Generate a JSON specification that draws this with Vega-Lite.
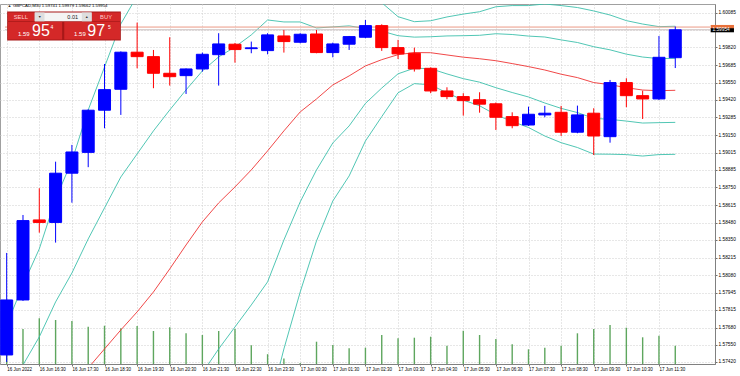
{
  "$schema": "https://vega.github.io/schema/vega-lite/v6.json",
  "width": 715,
  "height": 360,
  "autosize": {"type": "none"},
  "padding": {"left": 0, "top": 4, "right": 25, "bottom": 12},
  "background": "#ffffff",
  "config": {"view": {"stroke": "#a0a0a0"}, "font": "Liberation Sans"},
  "data": {"values": [
    {"i":0,"o":1.57471,"h":1.58250,"l":1.57418,"c":1.57891,"v":1360,"ma":1.56631,"bu2":1.57700,"bu1":1.57166,"bl1":1.56097,"bl2":1.55562},
    {"i":1,"o":1.57891,"h":1.58540,"l":1.57884,"c":1.58497,"v":1400,"ma":1.56784,"bu2":1.58006,"bu1":1.57395,"bl1":1.56173,"bl2":1.55562},
    {"i":2,"o":1.58502,"h":1.58744,"l":1.58405,"c":1.58483,"v":1828,"ma":1.56937,"bu2":1.58281,"bu1":1.57609,"bl1":1.56265,"bl2":1.55593},
    {"i":3,"o":1.58483,"h":1.58947,"l":1.58329,"c":1.58859,"v":1760,"ma":1.57089,"bu2":1.58662,"bu1":1.57876,"bl1":1.56303,"bl2":1.55516},
    {"i":4,"o":1.58859,"h":1.59075,"l":1.58634,"c":1.59021,"v":1720,"ma":1.57242,"bu2":1.58953,"bu1":1.58097,"bl1":1.56387,"bl2":1.55532},
    {"i":5,"o":1.59018,"h":1.59346,"l":1.58905,"c":1.59340,"v":1492,"ma":1.57372,"bu2":1.59342,"bu1":1.58357,"bl1":1.56387,"bl2":1.55402},
    {"i":6,"o":1.59340,"h":1.59693,"l":1.59202,"c":1.59497,"v":1532,"ma":1.57517,"bu2":1.59670,"bu1":1.58594,"bl1":1.56440,"bl2":1.55364},
    {"i":7,"o":1.59500,"h":1.59789,"l":1.59304,"c":1.59783,"v":1428,"ma":1.57662,"bu2":1.59999,"bu1":1.58830,"bl1":1.56494,"bl2":1.55326},
    {"i":8,"o":1.59783,"h":1.60009,"l":1.59660,"c":1.59749,"v":1520,"ma":1.57800,"bu2":1.60213,"bu1":1.59006,"bl1":1.56593,"bl2":1.55387},
    {"i":9,"o":1.59749,"h":1.59800,"l":1.59508,"c":1.59622,"v":1320,"ma":1.57952,"bu2":1.60411,"bu1":1.59182,"bl1":1.56723,"bl2":1.55494},
    {"i":10,"o":1.59622,"h":1.59897,"l":1.59528,"c":1.59596,"v":1468,"ma":1.58128,"bu2":1.60556,"bu1":1.59342,"bl1":1.56914,"bl2":1.55700},
    {"i":11,"o":1.59604,"h":1.59659,"l":1.59464,"c":1.59655,"v":1228,"ma":1.58311,"bu2":1.60678,"bu1":1.59495,"bl1":1.57128,"bl2":1.55944},
    {"i":12,"o":1.59655,"h":1.59780,"l":1.59635,"c":1.59767,"v":1160,"ma":1.58487,"bu2":1.60793,"bu1":1.59640,"bl1":1.57334,"bl2":1.56181},
    {"i":13,"o":1.59764,"h":1.59928,"l":1.59528,"c":1.59846,"v":1320,"ma":1.58632,"bu2":1.60862,"bu1":1.59747,"bl1":1.57517,"bl2":1.56402},
    {"i":14,"o":1.59844,"h":1.59854,"l":1.59703,"c":1.59803,"v":1400,"ma":1.58754,"bu2":1.60892,"bu1":1.59823,"bl1":1.57685,"bl2":1.56616},
    {"i":15,"o":1.59810,"h":1.59864,"l":1.59775,"c":1.59816,"v":748,"ma":1.58884,"bu2":1.60946,"bu1":1.59915,"bl1":1.57853,"bl2":1.56822},
    {"i":16,"o":1.59795,"h":1.59928,"l":1.59767,"c":1.59915,"v":392,"ma":1.59029,"bu2":1.61030,"bu1":1.60029,"bl1":1.58029,"bl2":1.57028},
    {"i":17,"o":1.59907,"h":1.59953,"l":1.59780,"c":1.59864,"v":220,"ma":1.59182,"bu2":1.60846,"bu1":1.60014,"bl1":1.58349,"bl2":1.57517},
    {"i":18,"o":1.59859,"h":1.59928,"l":1.59851,"c":1.59920,"v":40,"ma":1.59327,"bu2":1.60701,"bu1":1.60014,"bl1":1.58640,"bl2":1.57952},
    {"i":19,"o":1.59922,"h":1.59953,"l":1.59775,"c":1.59780,"v":892,"ma":1.59426,"bu2":1.60510,"bu1":1.59968,"bl1":1.58884,"bl2":1.58342},
    {"i":20,"o":1.59780,"h":1.59856,"l":1.59744,"c":1.59846,"v":760,"ma":1.59533,"bu2":1.60419,"bu1":1.59976,"bl1":1.59090,"bl2":1.58647},
    {"i":21,"o":1.59844,"h":1.59907,"l":1.59800,"c":1.59902,"v":628,"ma":1.59602,"bu2":1.60365,"bu1":1.59984,"bl1":1.59220,"bl2":1.58838},
    {"i":22,"o":1.59897,"h":1.60029,"l":1.59890,"c":1.59986,"v":652,"ma":1.59678,"bu2":1.60251,"bu1":1.59964,"bl1":1.59392,"bl2":1.59105},
    {"i":23,"o":1.59986,"h":1.59996,"l":1.59793,"c":1.59818,"v":1160,"ma":1.59726,"bu2":1.60161,"bu1":1.59944,"bl1":1.59509,"bl2":1.59291},
    {"i":24,"o":1.59818,"h":1.59877,"l":1.59731,"c":1.59770,"v":1028,"ma":1.59764,"bu2":1.60054,"bu1":1.59909,"bl1":1.59618,"bl2":1.59473},
    {"i":25,"o":1.59775,"h":1.59818,"l":1.59635,"c":1.59655,"v":1052,"ma":1.59780,"bu2":1.60016,"bu1":1.59898,"bl1":1.59661,"bl2":1.59543},
    {"i":26,"o":1.59660,"h":1.59667,"l":1.59470,"c":1.59487,"v":1092,"ma":1.59779,"bu2":1.60023,"bu1":1.59901,"bl1":1.59657,"bl2":1.59534},
    {"i":27,"o":1.59487,"h":1.59515,"l":1.59424,"c":1.59444,"v":728,"ma":1.59762,"bu2":1.60052,"bu1":1.59907,"bl1":1.59617,"bl2":1.59472},
    {"i":28,"o":1.59444,"h":1.59470,"l":1.59299,"c":1.59413,"v":1328,"ma":1.59745,"bu2":1.60074,"bu1":1.59909,"bl1":1.59581,"bl2":1.59417},
    {"i":29,"o":1.59420,"h":1.59477,"l":1.59321,"c":1.59386,"v":1160,"ma":1.59733,"bu2":1.60092,"bu1":1.59912,"bl1":1.59554,"bl2":1.59374},
    {"i":30,"o":1.59389,"h":1.59399,"l":1.59189,"c":1.59286,"v":1000,"ma":1.59718,"bu2":1.60130,"bu1":1.59924,"bl1":1.59512,"bl2":1.59305},
    {"i":31,"o":1.59291,"h":1.59324,"l":1.59202,"c":1.59222,"v":788,"ma":1.59696,"bu2":1.60139,"bu1":1.59918,"bl1":1.59475,"bl2":1.59254},
    {"i":32,"o":1.59227,"h":1.59367,"l":1.59220,"c":1.59309,"v":588,"ma":1.59673,"bu2":1.60139,"bu1":1.59906,"bl1":1.59441,"bl2":1.59208},
    {"i":33,"o":1.59304,"h":1.59373,"l":1.59286,"c":1.59317,"v":652,"ma":1.59647,"bu2":1.60151,"bu1":1.59899,"bl1":1.59395,"bl2":1.59143},
    {"i":34,"o":1.59324,"h":1.59373,"l":1.59143,"c":1.59172,"v":732,"ma":1.59615,"bu2":1.60139,"bu1":1.59877,"bl1":1.59354,"bl2":1.59092},
    {"i":35,"o":1.59172,"h":1.59375,"l":1.59164,"c":1.59304,"v":1228,"ma":1.59589,"bu2":1.60124,"bu1":1.59857,"bl1":1.59322,"bl2":1.59055},
    {"i":36,"o":1.59317,"h":1.59355,"l":1.58998,"c":1.59143,"v":1400,"ma":1.59551,"bu2":1.60098,"bu1":1.59825,"bl1":1.59278,"bl2":1.59005},
    {"i":37,"o":1.59138,"h":1.59571,"l":1.59092,"c":1.59551,"v":1560,"ma":1.59535,"bu2":1.60067,"bu1":1.59801,"bl1":1.59270,"bl2":1.59004},
    {"i":38,"o":1.59551,"h":1.59584,"l":1.59363,"c":1.59451,"v":1452,"ma":1.59512,"bu2":1.60024,"bu1":1.59768,"bl1":1.59257,"bl2":1.59001},
    {"i":39,"o":1.59451,"h":1.59489,"l":1.59273,"c":1.59426,"v":1068,"ma":1.59494,"bu2":1.59998,"bu1":1.59746,"bl1":1.59242,"bl2":1.58990},
    {"i":40,"o":1.59426,"h":1.59907,"l":1.59418,"c":1.59744,"v":1132,"ma":1.59489,"bu2":1.59978,"bu1":1.59734,"bl1":1.59245,"bl2":1.59001},
    {"i":41,"o":1.59741,"h":1.59979,"l":1.59662,"c":1.59954,"v":732,"ma":1.59492,"bu2":1.59981,"bu1":1.59736,"bl1":1.59247,"bl2":1.59003}
  ]},
  "encoding": {
    "x": {
      "field": "i", "type": "quantitative",
      "scale": {"domain": [-0.103, 43.13], "nice": false, "zero": false},
      "axis": {
        "title": null,
        "values": [0,2,4,6,8,10,12,14,16,18,20,22,24,26,28,30,32,34,36,38,40],
        "labelExpr": "['16 Jun 2022','16 Jun 16:30','16 Jun 17:30','16 Jun 18:30','16 Jun 19:30','16 Jun 20:30','16 Jun 21:30','16 Jun 22:30','16 Jun 23:30','17 Jun 00:30','17 Jun 01:30','17 Jun 02:30','17 Jun 03:30','17 Jun 04:30','17 Jun 05:30','17 Jun 06:30','17 Jun 07:30','17 Jun 08:30','17 Jun 09:30','17 Jun 10:30','17 Jun 11:30'][round(datum.value/2)]",
        "labelAlign": "left", "labelFontSize": 4.5, "labelColor": "#000000", "labelPadding": 0,
        "labelOverlap": false, "labelBound": false, "labelFlush": false,
        "tickSize": 2, "tickColor": "#707070", "domainColor": "#808080",
        "grid": true, "gridColor": "#cfcfcf", "gridDash": [1, 2]
      }
    }
  },
  "layer": [
    {
      "mark": {"type": "line", "color": "#3dbfab", "strokeWidth": 0.9, "clip": true},
      "encoding": {"y": {"field": "bu2", "type": "quantitative", "title": null, "scale": {"domain": [1.57402, 1.60151], "nice": false, "zero": false},
        "axis": {
          "orient": "right", "title": null,
          "values": [1.5742,1.5755,1.5768,1.57815,1.57945,1.5808,1.58215,1.5835,1.5848,1.58615,1.5875,1.58885,1.59015,1.5915,1.59285,1.5942,1.5955,1.59685,1.5982,1.5995,1.60085],
          "format": ".5f",
          "labelExpr": "(datum.value > 1.5994 && datum.value < 1.5996) ? '' : datum.label",
          "labelFontSize": 4.8, "labelColor": "#000000", "labelPadding": 1, "labelAlign": "left", "labelBaseline": "middle",
          "labelOverlap": false, "labelSeparation": 0, "labelFlush": false, "labelBound": false,
          "tickSize": 2, "tickColor": "#707070", "domainColor": "#808080",
          "grid": true, "gridColor": "#cfcfcf", "gridDash": [1, 2]
        }}}
    },
    {
      "mark": {"type": "rule", "color": "#5ea65e", "strokeWidth": 1.4, "clip": true},
      "encoding": {
        "y": {"field": "v", "type": "quantitative", "scale": {"domain": [0, 14400], "nice": false}, "axis": null},
        "y2": {"datum": 0}
      }
    },
    {
      "mark": {"type": "line", "color": "#3dbfab", "strokeWidth": 0.9, "clip": true},
      "encoding": {"y": {"field": "bu1", "type": "quantitative", "scale": {"domain": [1.57402, 1.60151], "nice": false, "zero": false}, "axis": null}}
    },
    {
      "mark": {"type": "line", "color": "#3dbfab", "strokeWidth": 0.9, "clip": true},
      "encoding": {"y": {"field": "bl1", "type": "quantitative", "scale": {"domain": [1.57402, 1.60151], "nice": false, "zero": false}, "axis": null}}
    },
    {
      "mark": {"type": "line", "color": "#3dbfab", "strokeWidth": 0.9, "clip": true},
      "encoding": {"y": {"field": "bl2", "type": "quantitative", "scale": {"domain": [1.57402, 1.60151], "nice": false, "zero": false}, "axis": null}}
    },
    {
      "mark": {"type": "line", "color": "#ee3333", "strokeWidth": 0.9, "clip": true},
      "encoding": {"y": {"field": "ma", "type": "quantitative", "scale": {"domain": [1.57402, 1.60151], "nice": false, "zero": false}, "axis": null}}
    },
    {
      "transform": [{"filter": "datum.i == 41"}],
      "mark": {"type": "rule", "color": "#c8bcbc", "strokeWidth": 1, "clip": true},
      "encoding": {"x": {"datum": -0.103}, "x2": {"datum": 43.13},
        "y": {"datum": 1.59954, "type": "quantitative", "scale": {"domain": [1.57402, 1.60151], "nice": false, "zero": false}, "axis": null}}
    },
    {
      "transform": [{"filter": "datum.i == 41"}],
      "mark": {"type": "rule", "color": "#ec9a86", "strokeWidth": 1, "clip": true},
      "encoding": {"x": {"datum": -0.103}, "x2": {"datum": 43.13},
        "y": {"datum": 1.59975, "type": "quantitative", "scale": {"domain": [1.57402, 1.60151], "nice": false, "zero": false}, "axis": null}}
    },
    {
      "mark": {"type": "rule", "strokeWidth": 1, "clip": true},
      "encoding": {
        "y": {"field": "l", "type": "quantitative", "scale": {"domain": [1.57402, 1.60151], "nice": false, "zero": false}, "axis": null},
        "y2": {"field": "h"},
        "color": {"condition": {"test": "datum.c > datum.o", "value": "#0000ff"}, "value": "#ff0000"}
      }
    },
    {
      "mark": {"type": "bar", "size": 12, "orient": "vertical", "strokeWidth": 1, "clip": true},
      "encoding": {
        "y": {"field": "o", "type": "quantitative", "scale": {"domain": [1.57402, 1.60151], "nice": false, "zero": false}, "axis": null},
        "y2": {"field": "c"},
        "color": {"condition": {"test": "datum.c > datum.o", "value": "#0000ff"}, "value": "#ff0000"},
        "stroke": {"condition": {"test": "datum.c > datum.o", "value": "#0000ff"}, "value": "#ff0000"}
      }
    },
    {
      "transform": [{"filter": "datum.i == 41"}],
      "mark": {"type": "text", "text": "▲", "fontSize": 4, "color": "#303030", "align": "left", "baseline": "middle"},
      "encoding": {"x": {"datum": 0.05}, "y": {"datum": 1.60136, "type": "quantitative", "scale": {"domain": [1.57402, 1.60151], "nice": false, "zero": false}, "axis": null}}
    },
    {
      "transform": [{"filter": "datum.i == 41"}],
      "mark": {"type": "text", "text": "GBPCAD,M30  1.59741 1.59979 1.59662 1.59954", "fontSize": 4.3, "color": "#000000", "align": "left", "baseline": "middle"},
      "encoding": {"x": {"datum": 0.381}, "y": {"datum": 1.60136, "type": "quantitative", "scale": {"domain": [1.57402, 1.60151], "nice": false, "zero": false}, "axis": null}}
    },
    {
      "transform": [{"filter": "datum.i == 41"}],
      "mark": {"type": "rect", "color": "#a81818"},
      "encoding": {"x": {"datum": 0.03}, "x2": {"datum": 7.0},
        "y": {"datum": 1.60093, "type": "quantitative", "scale": {"domain": [1.57402, 1.60151], "nice": false, "zero": false}, "axis": null}, "y2": {"datum": 1.59872}}
    },
    {
      "transform": [{"filter": "datum.i == 41"}],
      "mark": {"type": "rect", "color": "#d42828"},
      "encoding": {"x": {"datum": 0.08}, "x2": {"datum": 1.70},
        "y": {"datum": 1.60086, "type": "quantitative", "scale": {"domain": [1.57402, 1.60151], "nice": false, "zero": false}, "axis": null}, "y2": {"datum": 1.60019}}
    },
    {
      "transform": [{"filter": "datum.i == 41"}],
      "mark": {"type": "rect", "color": "#f4f4f4"},
      "encoding": {"x": {"datum": 1.72}, "x2": {"datum": 5.21},
        "y": {"datum": 1.60086, "type": "quantitative", "scale": {"domain": [1.57402, 1.60151], "nice": false, "zero": false}, "axis": null}, "y2": {"datum": 1.60019}}
    },
    {
      "transform": [{"filter": "datum.i == 41"}],
      "mark": {"type": "rect", "color": "#dedede"},
      "encoding": {"x": {"datum": 1.72}, "x2": {"datum": 2.32},
        "y": {"datum": 1.60086, "type": "quantitative", "scale": {"domain": [1.57402, 1.60151], "nice": false, "zero": false}, "axis": null}, "y2": {"datum": 1.60019}}
    },
    {
      "transform": [{"filter": "datum.i == 41"}],
      "mark": {"type": "rect", "color": "#dedede"},
      "encoding": {"x": {"datum": 4.61}, "x2": {"datum": 5.21},
        "y": {"datum": 1.60086, "type": "quantitative", "scale": {"domain": [1.57402, 1.60151], "nice": false, "zero": false}, "axis": null}, "y2": {"datum": 1.60019}}
    },
    {
      "transform": [{"filter": "datum.i == 41"}],
      "mark": {"type": "rect", "color": "#d42828"},
      "encoding": {"x": {"datum": 5.23}, "x2": {"datum": 6.95},
        "y": {"datum": 1.60086, "type": "quantitative", "scale": {"domain": [1.57402, 1.60151], "nice": false, "zero": false}, "axis": null}, "y2": {"datum": 1.60019}}
    },
    {
      "transform": [{"filter": "datum.i == 41"}],
      "mark": {"type": "rect", "color": "#d42828"},
      "encoding": {"x": {"datum": 0.08}, "x2": {"datum": 3.40},
        "y": {"datum": 1.60013, "type": "quantitative", "scale": {"domain": [1.57402, 1.60151], "nice": false, "zero": false}, "axis": null}, "y2": {"datum": 1.59879}}
    },
    {
      "transform": [{"filter": "datum.i == 41"}],
      "mark": {"type": "rect", "color": "#d42828"},
      "encoding": {"x": {"datum": 3.53}, "x2": {"datum": 6.95},
        "y": {"datum": 1.60013, "type": "quantitative", "scale": {"domain": [1.57402, 1.60151], "nice": false, "zero": false}, "axis": null}, "y2": {"datum": 1.59879}}
    },
    {
      "transform": [{"filter": "datum.i == 41"}],
      "mark": {"type": "text", "text": "SELL", "fontSize": 5.8, "color": "#ffd0d0", "align": "center", "baseline": "middle"},
      "encoding": {"x": {"datum": 0.865}, "y": {"datum": 1.60052, "type": "quantitative", "scale": {"domain": [1.57402, 1.60151], "nice": false, "zero": false}, "axis": null}}
    },
    {
      "transform": [{"filter": "datum.i == 41"}],
      "mark": {"type": "text", "text": "BUY", "fontSize": 5.8, "color": "#ffd0d0", "align": "center", "baseline": "middle"},
      "encoding": {"x": {"datum": 6.094}, "y": {"datum": 1.60052, "type": "quantitative", "scale": {"domain": [1.57402, 1.60151], "nice": false, "zero": false}, "axis": null}}
    },
    {
      "transform": [{"filter": "datum.i == 41"}],
      "mark": {"type": "text", "text": "0.01", "fontSize": 5.5, "color": "#202020", "align": "center", "baseline": "middle"},
      "encoding": {"x": {"datum": 4.05}, "y": {"datum": 1.60052, "type": "quantitative", "scale": {"domain": [1.57402, 1.60151], "nice": false, "zero": false}, "axis": null}}
    },
    {
      "transform": [{"filter": "datum.i == 41"}],
      "mark": {"type": "text", "text": "▼", "fontSize": 3.5, "color": "#303030", "align": "center", "baseline": "middle"},
      "encoding": {"x": {"datum": 2.02}, "y": {"datum": 1.60052, "type": "quantitative", "scale": {"domain": [1.57402, 1.60151], "nice": false, "zero": false}, "axis": null}}
    },
    {
      "transform": [{"filter": "datum.i == 41"}],
      "mark": {"type": "text", "text": "▲", "fontSize": 3.5, "color": "#303030", "align": "center", "baseline": "middle"},
      "encoding": {"x": {"datum": 4.91}, "y": {"datum": 1.60052, "type": "quantitative", "scale": {"domain": [1.57402, 1.60151], "nice": false, "zero": false}, "axis": null}}
    },
    {
      "transform": [{"filter": "datum.i == 41"}],
      "mark": {"type": "text", "text": "1.59", "fontSize": 6, "color": "#ffffff", "align": "center", "baseline": "middle"},
      "encoding": {"x": {"datum": 1.046}, "y": {"datum": 1.59922, "type": "quantitative", "scale": {"domain": [1.57402, 1.60151], "nice": false, "zero": false}, "axis": null}}
    },
    {
      "transform": [{"filter": "datum.i == 41"}],
      "mark": {"type": "text", "text": "95", "fontSize": 16, "color": "#ffffff", "align": "center", "baseline": "middle"},
      "encoding": {"x": {"datum": 2.104}, "y": {"datum": 1.59945, "type": "quantitative", "scale": {"domain": [1.57402, 1.60151], "nice": false, "zero": false}, "axis": null}}
    },
    {
      "transform": [{"filter": "datum.i == 41"}],
      "mark": {"type": "text", "text": "4", "fontSize": 5, "color": "#ffffff", "align": "center", "baseline": "middle"},
      "encoding": {"x": {"datum": 2.769}, "y": {"datum": 1.59977, "type": "quantitative", "scale": {"domain": [1.57402, 1.60151], "nice": false, "zero": false}, "axis": null}}
    },
    {
      "transform": [{"filter": "datum.i == 41"}],
      "mark": {"type": "text", "text": "1.59", "fontSize": 6, "color": "#ffffff", "align": "center", "baseline": "middle"},
      "encoding": {"x": {"datum": 4.492}, "y": {"datum": 1.59922, "type": "quantitative", "scale": {"domain": [1.57402, 1.60151], "nice": false, "zero": false}, "axis": null}}
    },
    {
      "transform": [{"filter": "datum.i == 41"}],
      "mark": {"type": "text", "text": "97", "fontSize": 16, "color": "#ffffff", "align": "center", "baseline": "middle"},
      "encoding": {"x": {"datum": 5.49}, "y": {"datum": 1.59945, "type": "quantitative", "scale": {"domain": [1.57402, 1.60151], "nice": false, "zero": false}, "axis": null}}
    },
    {
      "transform": [{"filter": "datum.i == 41"}],
      "mark": {"type": "text", "text": "5", "fontSize": 5, "color": "#ffffff", "align": "center", "baseline": "middle"},
      "encoding": {"x": {"datum": 6.306}, "y": {"datum": 1.59977, "type": "quantitative", "scale": {"domain": [1.57402, 1.60151], "nice": false, "zero": false}, "axis": null}}
    },
    {
      "transform": [{"filter": "datum.i == 41"}],
      "mark": {"type": "rect", "color": "#e8703a", "clip": false},
      "encoding": {"x": {"datum": 43.17}, "x2": {"datum": 44.6},
        "y": {"datum": 1.59991, "type": "quantitative", "scale": {"domain": [1.57402, 1.60151], "nice": false, "zero": false}, "axis": null}, "y2": {"datum": 1.59961}}
    },
    {
      "transform": [{"filter": "datum.i == 41"}],
      "mark": {"type": "rect", "color": "#000000", "clip": false},
      "encoding": {"x": {"datum": 43.17}, "x2": {"datum": 44.6},
        "y": {"datum": 1.59966, "type": "quantitative", "scale": {"domain": [1.57402, 1.60151], "nice": false, "zero": false}, "axis": null}, "y2": {"datum": 1.59935}}
    },
    {
      "transform": [{"filter": "datum.i == 41"}],
      "mark": {"type": "text", "text": "1.59954", "fontSize": 4.8, "color": "#ffffff", "align": "left", "baseline": "middle", "clip": false},
      "encoding": {"x": {"datum": 43.28}, "y": {"datum": 1.5995, "type": "quantitative", "scale": {"domain": [1.57402, 1.60151], "nice": false, "zero": false}, "axis": null}}
    }
  ],
  "resolve": {"scale": {"y": "independent"}}
}
